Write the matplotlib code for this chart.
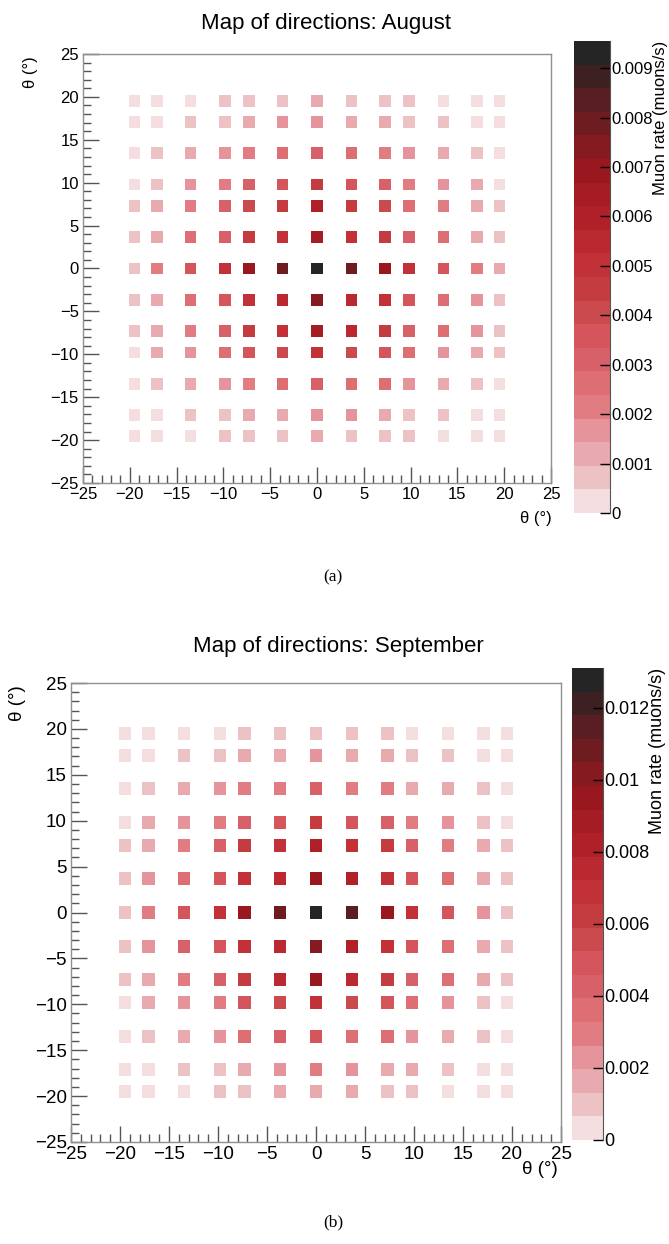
import numpy as np
import matplotlib
matplotlib.use("Agg")
import matplotlib.pyplot as plt
from matplotlib.colors import ListedColormap, BoundaryNorm
from matplotlib.ticker import MultipleLocator

plt.rcParams['font.family'] = ['Liberation Sans Narrow', 'Liberation Sans', 'DejaVu Sans']

W, H = 669, 1244

# direction angles (deg), same set on both axes
angles = [-19.5, -17.1, -13.5, -9.8, -7.3, -3.7, 0.0, 3.7, 7.3, 9.8, 13.5, 17.1, 19.5]
rows_y = angles[::-1]  # tables are written from the top row down

# muon rate (muons/s), August
august = [
    [0.00024, 0.00024, 0.00024, 0.00072, 0.00072, 0.00072, 0.0012, 0.00072, 0.00072, 0.00072, 0.00024, 0.00024, 0.00024],
    [0.00024, 0.00024, 0.00072, 0.00072, 0.0012, 0.0017, 0.0017, 0.0012, 0.0012, 0.00072, 0.00072, 0.00024, 0.00024],
    [0.00024, 0.00072, 0.0012, 0.0017, 0.0022, 0.0026, 0.0031, 0.0026, 0.0022, 0.0017, 0.0012, 0.00072, 0.00024],
    [0.00024, 0.00072, 0.0017, 0.0022, 0.0031, 0.0036, 0.0045, 0.0036, 0.0031, 0.0022, 0.0017, 0.0012, 0.00024],
    [0.00072, 0.0012, 0.0022, 0.0031, 0.0041, 0.0045, 0.0060, 0.0045, 0.0041, 0.0026, 0.0022, 0.0012, 0.00072],
    [0.00072, 0.0012, 0.0026, 0.0031, 0.0045, 0.0050, 0.0065, 0.0050, 0.0045, 0.0031, 0.0026, 0.0012, 0.00072],
    [0.00072, 0.0022, 0.0036, 0.0050, 0.0069, 0.0079, 0.00955, 0.0079, 0.0069, 0.0050, 0.0036, 0.0022, 0.0012],
    [0.00072, 0.0012, 0.0026, 0.0036, 0.0050, 0.0055, 0.0074, 0.0055, 0.0050, 0.0036, 0.0026, 0.0017, 0.00072],
    [0.00072, 0.0012, 0.0022, 0.0031, 0.0045, 0.0050, 0.0065, 0.0055, 0.0045, 0.0031, 0.0026, 0.0017, 0.00072],
    [0.00024, 0.0012, 0.0017, 0.0026, 0.0036, 0.0041, 0.0050, 0.0041, 0.0036, 0.0026, 0.0017, 0.0012, 0.00072],
    [0.00024, 0.00072, 0.0012, 0.0017, 0.0022, 0.0026, 0.0031, 0.0026, 0.0026, 0.0017, 0.0012, 0.00072, 0.00024],
    [0.00024, 0.00024, 0.00072, 0.00072, 0.0012, 0.0012, 0.0017, 0.0017, 0.0012, 0.00072, 0.00072, 0.00024, 0.00024],
    [0.00024, 0.00024, 0.00024, 0.00072, 0.00072, 0.00072, 0.0012, 0.00072, 0.00072, 0.00072, 0.00024, 0.00024, 0.00024],
]

# muon rate (muons/s), September
september = [
    [0.0003, 0.0003, 0.0003, 0.0003, 0.001, 0.001, 0.001, 0.001, 0.001, 0.0003, 0.0003, 0.0003, 0.0003],
    [0.0003, 0.0003, 0.001, 0.001, 0.0016, 0.0016, 0.0023, 0.0016, 0.0016, 0.001, 0.001, 0.0003, 0.0003],
    [0.0003, 0.001, 0.0016, 0.0023, 0.0029, 0.0029, 0.0043, 0.0029, 0.0029, 0.0016, 0.0016, 0.001, 0.0003],
    [0.0003, 0.0016, 0.0023, 0.0029, 0.0043, 0.0049, 0.0062, 0.0049, 0.0043, 0.0029, 0.0023, 0.001, 0.0003],
    [0.001, 0.0016, 0.0029, 0.0043, 0.0062, 0.0069, 0.0082, 0.0069, 0.0062, 0.0043, 0.0029, 0.0016, 0.001],
    [0.001, 0.0023, 0.0036, 0.0049, 0.0069, 0.0075, 0.0095, 0.0082, 0.0069, 0.0049, 0.0036, 0.0016, 0.001],
    [0.001, 0.0029, 0.0049, 0.0069, 0.0095, 0.0108, 0.0131, 0.0115, 0.0095, 0.0069, 0.0049, 0.0023, 0.001],
    [0.001, 0.0023, 0.0043, 0.0049, 0.0069, 0.0075, 0.0101, 0.0082, 0.0069, 0.0049, 0.0036, 0.0016, 0.001],
    [0.001, 0.0016, 0.0029, 0.0043, 0.0062, 0.0075, 0.0095, 0.0075, 0.0062, 0.0043, 0.0036, 0.0016, 0.001],
    [0.0003, 0.0016, 0.0023, 0.0029, 0.0049, 0.0056, 0.0069, 0.0056, 0.0049, 0.0036, 0.0023, 0.001, 0.0003],
    [0.0003, 0.001, 0.0016, 0.0023, 0.0036, 0.0043, 0.0049, 0.0036, 0.0036, 0.0023, 0.0016, 0.001, 0.0003],
    [0.0003, 0.0003, 0.001, 0.001, 0.0016, 0.0023, 0.0029, 0.0023, 0.0016, 0.0016, 0.001, 0.0003, 0.0003],
    [0.0003, 0.0003, 0.0003, 0.001, 0.001, 0.0016, 0.0016, 0.0016, 0.001, 0.001, 0.0003, 0.0003, 0.0003],
]

aug_ticks = [0, 0.001, 0.002, 0.003, 0.004, 0.005, 0.006, 0.007, 0.008, 0.009]
aug_ticklabels = ['0', '0.001', '0.002', '0.003', '0.004', '0.005', '0.006', '0.007', '0.008', '0.009']
sep_ticks = [0, 0.002, 0.004, 0.006, 0.008, 0.01, 0.012]
sep_ticklabels = ['0', '0.002', '0.004', '0.006', '0.008', '0.01', '0.012']

# 20-step palette, light pink -> red -> near black
palette = ['#f4dee0', '#ecc2c4', '#e8aaae', '#e4949a', '#e07c82', '#dc6e74', '#d86068',
           '#d4565c', '#cb4a4e', '#c43c40', '#c23038', '#ba2830', '#b02028', '#a51c24',
           '#991820', '#851a20', '#6e1c20', '#581e22', '#3d2022', '#252525']
cmap = ListedColormap(palette)


def px_rect(left, top, right, bottom):
    return [left / W, 1 - bottom / H, (right - left) / W, (bottom - top) / H]


def draw_panel(fig, frame, cbar, values, ticks, ticklabels, title, title_xy,
               ylab_xy, xlab_xy, caption, caption_y, sq_px, fs, cfs, cb_lab_x):
    vals = np.array(values)
    zmax = vals.max()
    norm = BoundaryNorm(np.linspace(0, zmax, 21), cmap.N)

    ax = fig.add_axes(px_rect(*frame))
    xx, yy = np.meshgrid(angles, rows_y)
    side = sq_px * 72 / fig.dpi
    sc = ax.scatter(xx.ravel(), yy.ravel(), c=vals.ravel(), cmap=cmap, norm=norm,
                    marker='s', s=side ** 2, linewidths=0)

    ax.set_xlim(-25, 25)
    ax.set_ylim(-25, 25)
    ax.xaxis.set_major_locator(MultipleLocator(5))
    ax.yaxis.set_major_locator(MultipleLocator(5))
    ax.xaxis.set_minor_locator(MultipleLocator(1))
    ax.yaxis.set_minor_locator(MultipleLocator(1))
    ax.tick_params(which='both', direction='in', top=False, right=False,
                   color='#555555', labelsize=fs, pad=3)
    ax.tick_params(which='major', length=11.5, width=1)
    ax.tick_params(which='minor', length=6, width=1)
    for sp in ax.spines.values():
        sp.set_color('#909090')
        sp.set_linewidth(1)
    ax.set_xticks([-25, -20, -15, -10, -5, 0, 5, 10, 15, 20, 25])
    ax.set_xticklabels(['\u221225', '\u221220', '\u221215', '\u221210', '\u22125', '0',
                        '5', '10', '15', '20', '25'])

    cax = fig.add_axes(px_rect(*cbar))
    cb = fig.colorbar(sc, cax=cax, ticks=ticks)
    cb.set_ticklabels(ticklabels)
    cb.outline.set_visible(False)
    cax.spines['right'].set_visible(True)
    cax.spines['right'].set_color('#555555')
    cax.tick_params(direction='in', length=7, width=1, color='black', labelsize=cfs, pad=1)
    cax.minorticks_off()

    fig.text(title_xy[0] / W, 1 - title_xy[1] / H, title, ha='center', va='baseline',
             fontsize=16)
    fig.text(ylab_xy[0] / W, 1 - ylab_xy[1] / H, '\u03b8 (\u00b0)', rotation=90,
             ha='center', va='top', fontsize=fs)
    fig.text(xlab_xy[0] / W, 1 - xlab_xy[1] / H, '\u03b8 (\u00b0)', ha='right',
             va='center', fontsize=fs)
    fig.text(cb_lab_x / W, 1 - cbar[1] / H, 'Muon rate (muons/s)', rotation=90,
             ha='center', va='top', fontsize=cfs)
    fig.text(333 / W, 1 - caption_y / H, caption, ha='center', va='center',
             fontsize=12.5, family='Liberation Serif')


fig = plt.figure(figsize=(W / 100, H / 100), dpi=100)

draw_panel(fig, (83, 54, 551, 483), (574, 41, 610, 513), august, aug_ticks, aug_ticklabels,
           'Map of directions: August', (326, 29), (30, 56), (552, 519), '(a)', 577,
           11.7, 12, 12, 660)

draw_panel(fig, (71, 683, 561, 1142), (572, 668, 603, 1140), september, sep_ticks,
           sep_ticklabels, 'Map of directions: September', (338, 652), (17, 685),
           (558, 1170), '(b)', 1222, 12.2, 13.5, 13, 658)

fig.savefig('out.png', dpi=100)
